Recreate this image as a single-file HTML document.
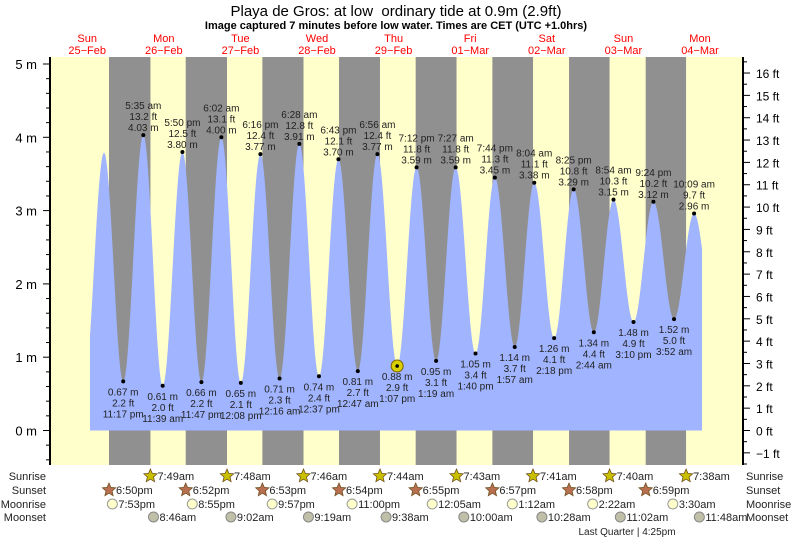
<!DOCTYPE html>
<html><head><meta charset="utf-8"><style>
body{margin:0;background:#fff;}
svg{display:block;font-family:"Liberation Sans",sans-serif;}
</style></head><body>
<svg id="s" width="793" height="539" xmlns="http://www.w3.org/2000/svg"></svg>
<script>
const s=document.getElementById('s');let o='';
const X0=48.9,DW=76.6,Y0=430.5,PM=73.3;
const xt=(d,h,m)=>X0+(d+(h+m/60)/24)*DW;
const ym=v=>Y0-v*PM;
function t12(str){let [hm,ap]=str.split(' ');let [h,m]=hm.split(':').map(Number);if(ap=='pm'&&h!=12)h+=12;if(ap=='am'&&h==12)h=0;return [h,m];}
o+=`<rect x="50" y="57" width="693" height="408" fill="#ffffcc"/>`;
const sunset=[[0,'6:50pm'],[1,'6:52pm'],[2,'6:53pm'],[3,'6:54pm'],[4,'6:55pm'],[5,'6:57pm'],[6,'6:58pm'],[7,'6:59pm']];
const sunrise=[[1,'7:49am'],[2,'7:48am'],[3,'7:46am'],[4,'7:44am'],[5,'7:43am'],[6,'7:41am'],[7,'7:40am'],[8,'7:38am']];
const tx=(d,str)=>{let [h,m]=t12(str.replace(/(am|pm)/,' $1'));return xt(d,h,m);};
for(let i=0;i<8;i++){let a=tx(sunset[i][0],sunset[i][1]),b=tx(sunrise[i][0],sunrise[i][1]);o+=`<rect x="${a}" y="57" width="${b-a}" height="408" fill="#909090"/>`;}
const ex=[[0,'10:55 am',0.6,0],[0,'5:16 pm',3.79,0],[0,'11:17 pm',0.67,1],[1,'5:35 am',4.03,1],[1,'11:39 am',0.61,1],[1,'5:50 pm',3.80,1],[1,'11:47 pm',0.66,1],
[2,'6:02 am',4.00,1],[2,'12:08 pm',0.65,1],[2,'6:16 pm',3.77,1],[3,'12:16 am',0.71,1],[3,'6:28 am',3.91,1],[3,'12:37 pm',0.74,1],[3,'6:43 pm',3.70,1],
[4,'12:47 am',0.81,1],[4,'6:56 am',3.77,1],[4,'1:07 pm',0.88,1],[4,'7:12 pm',3.59,1],[5,'1:19 am',0.95,1],[5,'7:27 am',3.59,1],[5,'1:40 pm',1.05,1],[5,'7:44 pm',3.45,1],
[6,'1:57 am',1.14,1],[6,'8:04 am',3.38,1],[6,'2:18 pm',1.26,1],[6,'8:25 pm',3.29,1],[7,'2:44 am',1.34,1],[7,'8:54 am',3.15,1],[7,'3:10 pm',1.48,1],[7,'9:24 pm',3.12,1],
[8,'3:52 am',1.52,1],[8,'10:09 am',2.96,1],[8,'4:30 pm',1.5,0]];
const P=ex.map(e=>{let [h,m]=t12(e[1]);return {x:xt(e[0],h,m),v:e[2],e};});
let pts=[];
for(let x=90;x<=702;x+=0.5){let i=0;while(P[i+1].x<x)i++;let a=P[i],b=P[i+1];let t=(x-a.x)/(b.x-a.x);let v=a.v+(b.v-a.v)*(1-Math.cos(Math.PI*t))/2;pts.push(x.toFixed(1)+','+ym(v).toFixed(1));}
o+=`<polygon points="90,${Y0} ${pts.join(' ')} 702,${Y0}" fill="#a0b4ff"/>`;
const T=(x,y,t,a='middle',sz=10,c='#222',extra='')=>`<text x="${x}" y="${y}" font-size="${sz}" fill="${c}" text-anchor="${a}" ${extra}>${t}</text>`;
P.forEach(p=>{if(!p.e[3])return;const y=ym(p.v),ft=(p.v/0.3048).toFixed(1);
o+=`<circle cx="${p.x}" cy="${y}" r="2" fill="#000"/>`;
if(p.v>2){o+=T(p.x,y-4,p.v.toFixed(2)+' m')+T(p.x,y-15,ft+' ft')+T(p.x,y-26,p.e[1]);}
else{o+=T(p.x,y+14,p.v.toFixed(2)+' m')+T(p.x,y+25,ft+' ft')+T(p.x,y+36,p.e[1]);}});
{let x=xt(4,13,7),y=ym(0.88);o+=`<circle cx="${x}" cy="${y}" r="6" fill="#d8d000" stroke="#806000"/><circle cx="${x}" cy="${y}" r="1.8" fill="#000"/>`;}
o+=`<line x1="50" y1="57" x2="50" y2="465" stroke="#000" stroke-width="2"/><line x1="743" y1="57" x2="743" y2="465" stroke="#000" stroke-width="2"/>`;
for(let k=-2;k<=26;k++){let v=k*0.2,y=ym(v);if(y<58||y>465)continue;let maj=k%5==0;o+=`<line x1="${maj?43:46}" y1="${y}" x2="50" y2="${y}" stroke="#000"/>`;if(maj)o+=T(37,y+5,(v|0)+' m','end',13,'#000');}
for(let k=-3;k<=33;k++){let f=k*0.5,y=Y0-f*0.3048*PM;if(y<58||y>465)continue;let maj=k%2==0;o+=`<line x1="743" y1="${y}" x2="${maj?750:747}" y2="${y}" stroke="#000"/>`;if(maj)o+=T(756,y+5,(f<0?'\u22121':f)+' ft','start',12,'#000');}
o+=T(396,16,'Playa de Gros: at low&#160; ordinary tide at 0.9m (2.9ft)','middle',15,'#000');
o+=T(396,29,'Image captured 7 minutes before low water. Times are CET (UTC +1.0hrs)','middle',11,'#000','font-weight="bold"');
const days=[['Sun','25\u2212Feb'],['Mon','26\u2212Feb'],['Tue','27\u2212Feb'],['Wed','28\u2212Feb'],['Thu','29\u2212Feb'],['Fri','01\u2212Mar'],['Sat','02\u2212Mar'],['Sun','03\u2212Mar'],['Mon','04\u2212Mar']];
days.forEach((d,i)=>{let x=X0+(i+0.5)*DW;o+=T(x,42,d[0],'middle',11,'#f00')+T(x,54,d[1],'middle',11,'#f00');});
const star=(x,y,f)=>{let p=[];for(let i=0;i<10;i++){let r=i%2?3.2:7,a=-Math.PI/2+i*Math.PI/5;p.push((x+r*Math.cos(a)).toFixed(1)+','+(y+r*Math.sin(a)).toFixed(1));}return `<polygon points="${p.join(' ')}" fill="${f}" stroke="#705020" stroke-width="0.8"/>`;};
const rows=[['Sunrise',476],['Sunset',490],['Moonrise',504],['Moonset',517]];
rows.forEach(r=>{o+=T(46,r[1]+4,r[0],'end',11,'#222')+T(746,r[1]+4,r[0],'start',11,'#222');});
sunrise.forEach(a=>{let x=tx(a[0],a[1]);o+=star(x,476,'#c8c000')+T(x+7,480,a[1],'start',11);});
sunset.forEach(a=>{let x=tx(a[0],a[1]);o+=star(x,490,'#b87050')+T(x+7,494,a[1],'start',11);});
const mr=[[0,'7:53pm'],[1,'8:55pm'],[2,'9:57pm'],[3,'11:00pm'],[5,'12:05am'],[6,'1:12am'],[7,'2:22am'],[8,'3:30am']];
const ms=[[1,'8:46am'],[2,'9:02am'],[3,'9:19am'],[4,'9:38am'],[5,'10:00am'],[6,'10:28am'],[7,'11:02am'],[8,'11:48am']];
mr.forEach(a=>{let x=tx(a[0],a[1]);o+=`<circle cx="${x}" cy="504" r="5" fill="#ffffcc" stroke="#999"/>`+T(x+6,508,a[1],'start',11);});
ms.forEach(a=>{let x=tx(a[0],a[1]);o+=`<circle cx="${x}" cy="517" r="5" fill="#c0c0a8" stroke="#888"/>`+T(x+6,521,a[1],'start',11);});
o+=T(627,535,'Last Quarter | 4:25pm','middle',10,'#222');
s.innerHTML=o;
</script>
</body></html>
